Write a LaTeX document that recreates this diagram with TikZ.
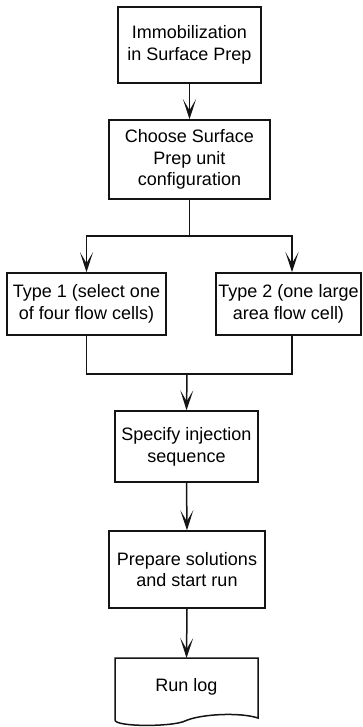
\documentclass[tikz,border=0pt]{standalone}
\usepackage{fontspec}
\setmainfont{Liberation Sans}
\usepackage{tikz}
\usetikzlibrary{arrows.meta,positioning,calc}
\definecolor{boxline}{RGB}{20,20,20}

\begin{document}
\begin{tikzpicture}[x=1pt,y=-1pt,>={Stealth[length=20pt,width=13pt,inset=11pt]},
  stepbox/.style={draw=boxline,line width=1.5pt,inner sep=0pt,align=center,
    font=\fontsize{18}{21.7}\selectfont},
  flow/.style={->,draw=boxline,line width=1.5pt}]
  \useasboundingbox (0,0) rectangle (362,727);
  % process steps
  \node[stepbox,minimum width=143pt,minimum height=76pt] (immob) at (189.5,45)
    {Immobilization\\in Surface Prep};
  \node[stepbox,minimum width=161pt,minimum height=79pt] (config) at (189.5,159.5)
    {Choose Surface\\Prep unit\\configuration};
  \node[stepbox,minimum width=159pt,minimum height=62pt] (typeone) at (86.5,304)
    {Type 1 (select one\\of four flow cells)};
  \node[stepbox,minimum width=145pt,minimum height=62pt] (typetwo) at (288.5,304)
    {Type 2 (one large\\area flow cell)};
  \node[stepbox,minimum width=143pt,minimum height=71pt] (inject) at (186.5,446.5)
    {Specify injection\\sequence};
  \node[stepbox,minimum width=156pt,minimum height=77pt] (prepare) at (187,569.5)
    {Prepare solutions\\and start run};
  % run log document
  \node[font=\fontsize{18}{21.7}\selectfont,inner sep=0pt] (runlog) at (186.5,687) {Run log};
  \coordinate (logtop) at (186.5,658);
  \draw[boxline,line width=1.5pt] (115,658) -- (258,658) -- (258,718)
    .. controls (240,712) and (200,714) .. (185,721)
    .. controls (172,727) and (115,727) .. (115,720) -- cycle;
  % branch and merge points
  \coordinate (split) at (189.5,236);
  \coordinate (merge) at (187,374);
  % connectors
  \draw[flow] (immob) -- (config);
  \draw[draw=boxline,line width=1.5pt] (config.south) -- (split);
  \draw[flow] (split) -| (typeone.north);
  \draw[flow] (split) -| ([xshift=3.5pt]typetwo.north);
  \draw[draw=boxline,line width=1.5pt] (typeone.south) |- (merge)
    -| ([xshift=3.5pt]typetwo.south);
  \draw[flow] (merge) -- (inject.north);
  \draw[flow] (inject.south) -- (prepare.north);
  \draw[flow] (prepare.south) -- (logtop);
\end{tikzpicture}
\end{document}
